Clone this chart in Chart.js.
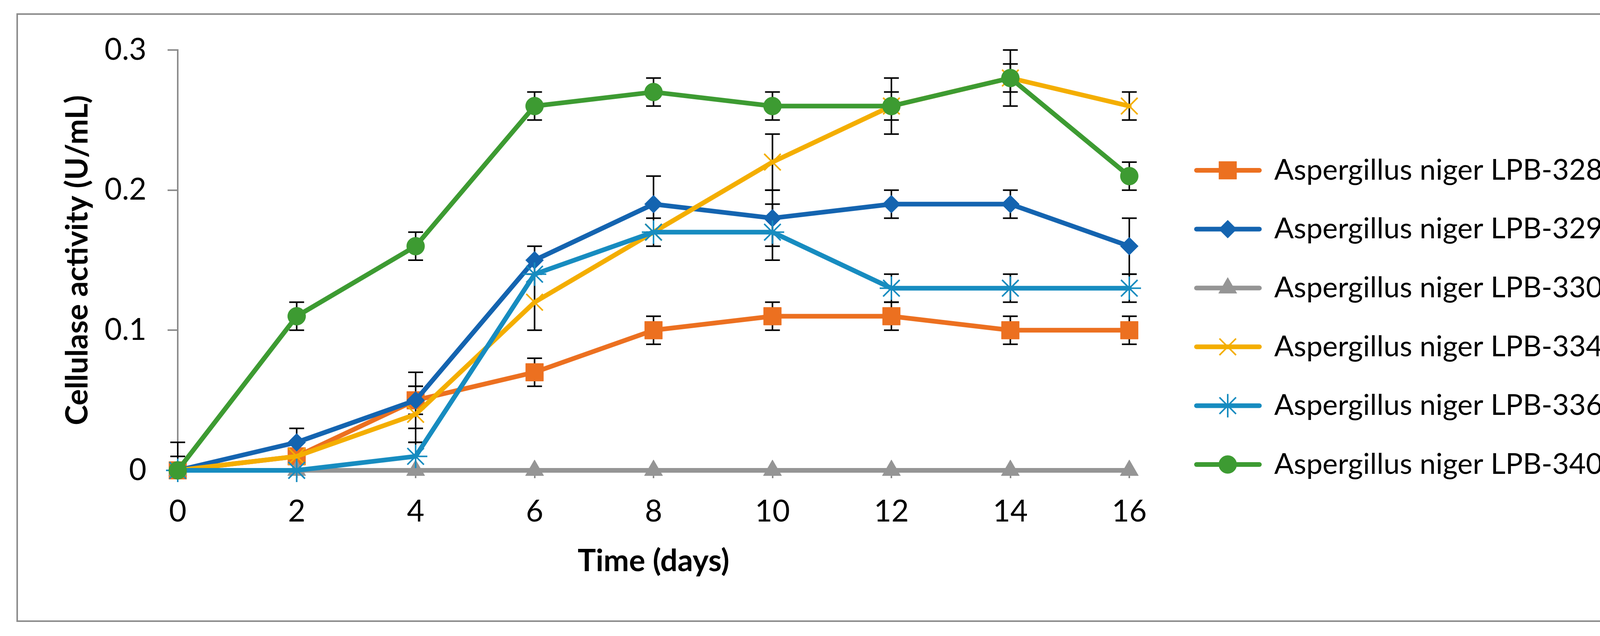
<!DOCTYPE html>
<html lang="en">
<head>
  <meta charset="UTF-8" />
  <title>Cellulase activity</title>
  <script src="https://cdn.jsdelivr.net/npm/chart.js"></script>
  <style>
    html, body {
      margin: 0;
      padding: 0;
      background: #fff;
    }

    #wrap {
      width: 4239px;
      height: 1628px;
    }

    canvas {
      display: block;
    }
  </style>
</head>
<body>
  <div id="wrap"><canvas id="activityChart" width="4239" height="1628"></canvas></div>

  <script>
    // sampling days (x categories) and y tick labels
    const days = ['0', '2', '4', '6', '8', '10', '12', '14', '16'];
    const yTickLabels = ['0', '0.1', '0.2', '0.3'];

    // mean cellulase activity (U/mL) per strain
    const lpb328 = [0, 0.01, 0.05, 0.07, 0.10, 0.11, 0.11, 0.10, 0.10];
    const lpb329 = [0, 0.02, 0.05, 0.15, 0.19, 0.18, 0.19, 0.19, 0.16];
    const lpb330 = [0, 0, 0, 0, 0, 0, 0, 0, 0];
    const lpb334 = [0, 0.01, 0.04, 0.12, 0.17, 0.22, 0.26, 0.28, 0.26];
    const lpb336 = [0, 0, 0.01, 0.14, 0.17, 0.17, 0.13, 0.13, 0.13];
    const lpb340 = [0, 0.11, 0.16, 0.26, 0.27, 0.26, 0.26, 0.28, 0.21];

    // error bar sizes (+/-)
    const err328 = [0.01, 0.01, 0.01, 0.01, 0.01, 0.01, 0.01, 0.01, 0.01];
    const err329 = [0, 0.01, 0.02, 0.01, 0.02, 0.02, 0.01, 0.01, 0.02];
    const err330 = [0, 0, 0, 0, 0, 0, 0, 0, 0];
    const err334 = [0, 0, 0.02, 0.02, 0, 0.02, 0.02, 0.02, 0.01];
    const err336 = [0, 0, 0.01, 0, 0.01, 0.02, 0.01, 0.01, 0.01];
    const err340 = [0.02, 0.01, 0.01, 0.01, 0.01, 0.01, 0.01, 0.01, 0.01];

    const axisGray = '#8c8c8c';
    Chart.defaults.font.family = 'Lato';
    Chart.defaults.color = '#000';

    function series(label, data, errors, color, style, radius, markerLine, order) {
      return {
        label: label,
        data: data,
        errors: errors,
        borderColor: color,
        backgroundColor: color,
        borderWidth: 12,
        borderJoinStyle: 'round',
        borderCapStyle: 'round',
        tension: 0,
        pointStyle: style,
        pointRadius: radius,
        pointHoverRadius: radius,
        pointBackgroundColor: color,
        pointBorderColor: color,
        pointBorderWidth: markerLine,
        clip: false,
        order: order
      };
    }

    // frame around the whole figure
    const framePlugin = {
      id: 'frame',
      beforeDraw(chart) {
        const ctx = chart.ctx;
        ctx.save();
        ctx.fillStyle = '#fff';
        ctx.fillRect(0, 0, chart.width, chart.height);
        ctx.strokeStyle = axisGray;
        ctx.lineWidth = 4;
        ctx.strokeRect(44, 36, 4154, 1554);
        ctx.restore();
      }
    };

    // vertical error bars with caps, drawn under the lines
    const errorBarPlugin = {
      id: 'errorBars',
      beforeDatasetsDraw(chart) {
        const { ctx, chartArea } = chart;
        const yScale = chart.scales.y;
        ctx.save();
        ctx.beginPath();
        ctx.rect(chartArea.left - 40, chartArea.top - 6, chartArea.width + 80, chartArea.height + 6);
        ctx.clip();
        ctx.strokeStyle = '#000';
        ctx.lineWidth = 4;
        chart.data.datasets.forEach((ds, i) => {
          const meta = chart.getDatasetMeta(i);
          ds.errors.forEach((e, j) => {
            if (!e) return;
            const x = meta.data[j].x;
            const top = yScale.getPixelForValue(ds.data[j] + e);
            const bot = yScale.getPixelForValue(ds.data[j] - e);
            ctx.beginPath();
            ctx.moveTo(x, top);
            ctx.lineTo(x, bot);
            ctx.moveTo(x - 19, top);
            ctx.lineTo(x + 19, top);
            ctx.moveTo(x - 19, bot);
            ctx.lineTo(x + 19, bot);
            ctx.stroke();
          });
        });
        ctx.restore();
      }
    };

    // legend on the right: line + marker + label
    const legendPlugin = {
      id: 'sideLegend',
      afterDraw(chart) {
        const ctx = chart.ctx;
        ctx.save();
        chart.data.datasets.forEach((ds, i) => {
          const y = 436 + i * 150.6;
          ctx.strokeStyle = ds.borderColor;
          ctx.lineWidth = 12;
          ctx.lineCap = 'round';
          ctx.beginPath();
          ctx.moveTo(3063, y);
          ctx.lineTo(3224, y);
          ctx.stroke();

          ctx.fillStyle = ds.pointBackgroundColor;
          ctx.strokeStyle = ds.pointBorderColor;
          ctx.lineWidth = ds.pointBorderWidth;
          ctx.lineCap = 'butt';
          Chart.helpers.drawPoint(ctx, {
            pointStyle: ds.pointStyle,
            radius: ds.pointRadius,
            borderWidth: ds.pointBorderWidth,
            rotation: 0
          }, 3143, y);

          ctx.fillStyle = '#000';
          ctx.font = '74px Lato';
          ctx.textAlign = 'left';
          ctx.textBaseline = 'middle';
          ctx.fillText(ds.label, 3262, y);
        });
        ctx.restore();
      }
    };

    new Chart(document.getElementById('activityChart').getContext('2d'), {
      type: 'line',
      data: {
        labels: days,
        datasets: [
          series('Aspergillus niger LPB-328', lpb328, err328, '#ec7020', 'rect', 32, 1, 6),
          series('Aspergillus niger LPB-329', lpb329, err329, '#1464b0', 'rectRot', 23, 1, 5),
          series('Aspergillus niger LPB-330', lpb330, err330, '#959595', 'triangle', 27, 1, 4),
          series('Aspergillus niger LPB-334', lpb334, err334, '#f4ae00', 'crossRot', 30, 4, 3),
          series('Aspergillus niger LPB-336', lpb336, err336, '#178cc0', 'star', 30, 4, 2),
          series('Aspergillus niger LPB-340', lpb340, err340, '#3d9b32', 'circle', 23, 1, 1)
        ]
      },
      options: {
        responsive: false,
        animation: false,
        devicePixelRatio: 1,
        layout: {
          padding: { left: 0, top: 128, right: 1348, bottom: 124 }
        },
        plugins: {
          legend: { display: false },
          tooltip: { enabled: false }
        },
        scales: {
          x: {
            type: 'category',
            offset: false,
            border: { display: true, color: axisGray, width: 4 },
            grid: { drawOnChartArea: false, drawTicks: true, tickLength: 20, color: axisGray, lineWidth: 4 },
            ticks: { font: { size: 77, lineHeight: 1.2 }, padding: 40, maxRotation: 0, autoSkip: false, color: '#000' },
            title: {
              display: true,
              text: 'Time (days)',
              font: { size: 78, weight: 'bold', lineHeight: 1.2 },
              padding: { top: 0, bottom: 20 },
              color: '#000'
            },
            afterFit(scale) { scale.height = 300; }
          },
          y: {
            min: 0,
            max: 0.3,
            border: { display: true, color: axisGray, width: 4 },
            grid: { drawOnChartArea: false, drawTicks: true, tickLength: 26, color: axisGray, lineWidth: 4 },
            ticks: {
              stepSize: 0.1,
              font: { size: 77, lineHeight: 1.2 },
              padding: 54,
              color: '#000',
              callback: (value, index) => yTickLabels[index]
            },
            title: {
              display: true,
              text: 'Cellulase activity (U/mL)',
              font: { size: 78, weight: 'bold', lineHeight: 1.2 },
              padding: { top: 152, bottom: 0 },
              color: '#000'
            },
            afterFit(scale) { scale.width = 455; }
          }
        }
      },
      plugins: [framePlugin, errorBarPlugin, legendPlugin]
    });
  </script>
</body>
</html>
